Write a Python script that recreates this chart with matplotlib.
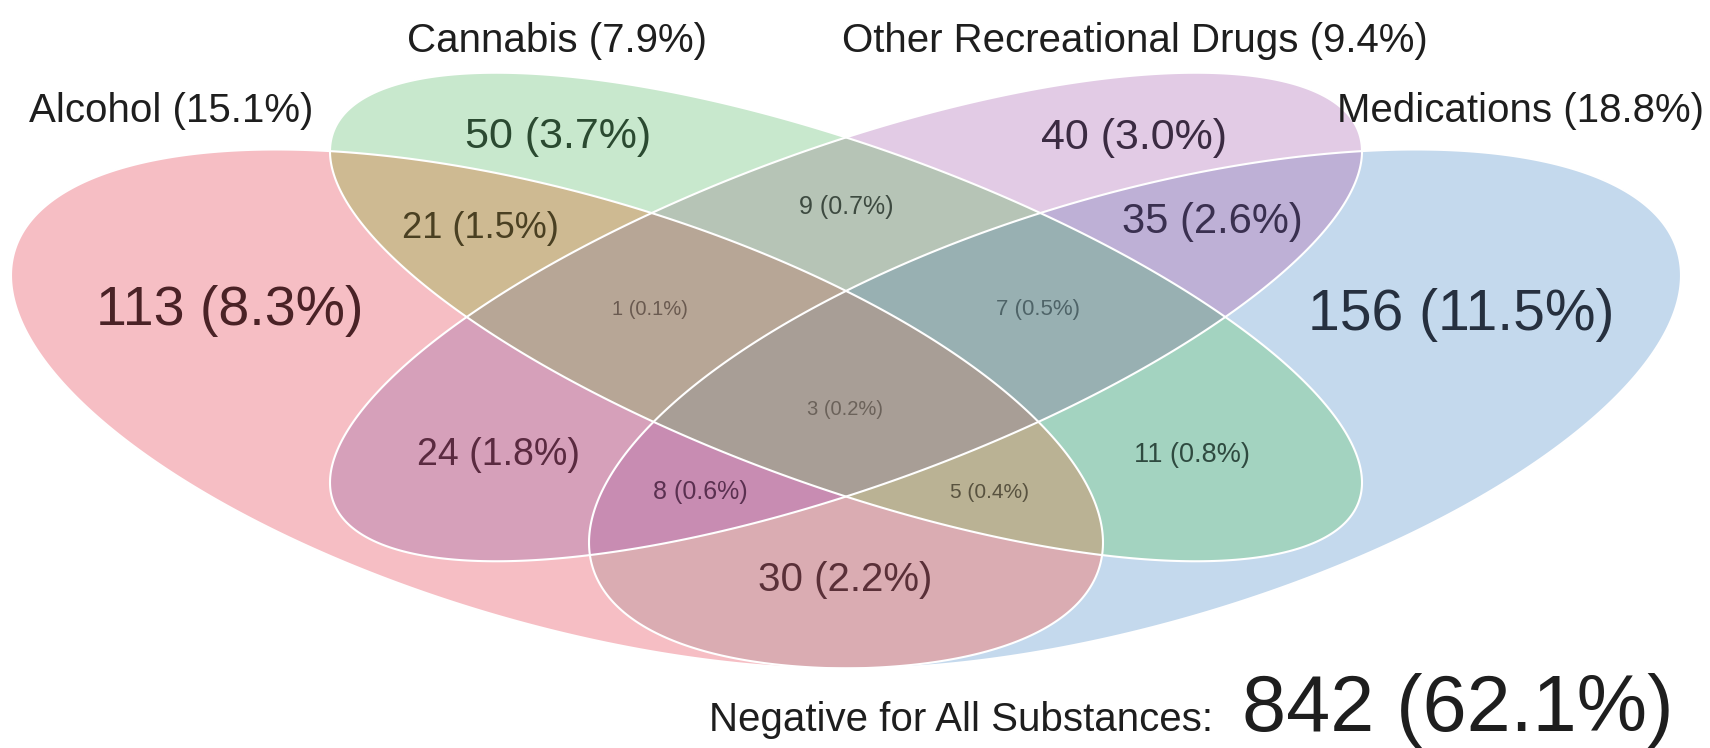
import numpy as np
import matplotlib.pyplot as plt
from matplotlib.patches import Polygon

plt.rcParams['font.family'] = ['Liberation Sans', 'DejaVu Sans']

# ---------------- data ----------------
set_names = ['Alcohol', 'Cannabis', 'Other Recreational Drugs', 'Medications']
set_pcts = [15.1, 7.9, 9.4, 18.8]
# region keys: 0=Alcohol 1=Cannabis 2=Other 3=Medications
region_keys = ['0', '1', '2', '3', '01', '02', '03', '12', '13', '23',
               '012', '013', '023', '123', '0123']
region_counts = [113, 50, 40, 156, 21, 24, 30, 9, 11, 35, 1, 5, 8, 7, 3]
region_pcts = [8.3, 3.7, 3.0, 11.5, 1.5, 1.8, 2.2, 0.7, 0.8, 2.6, 0.1, 0.4, 0.6, 0.5, 0.2]
negative_count = 842
negative_pct = 62.1

# ---------------- layout / style ----------------
# ellipses in pixel space (x right, y down): cx, cy, semi-major, semi-minor, angle
ellipses = [(557, 409, 565, 215, 16.15),
            (846, 317, 545, 170, 19.8),
            (846, 317, 545, 170, -19.8),
            (1135, 409, 565, 215, -16.15)]
region_colors = {'0': '#F6BEC4', '1': '#C8E8CD', '2': '#E2CBE5', '3': '#C4D9ED',
                 '01': '#CEBA92', '02': '#D6A0BA', '03': '#DAACB2', '12': '#B6C4B6',
                 '13': '#A3D3C0', '23': '#BEB0D6', '012': '#B7A696', '013': '#BAB294',
                 '023': '#C88CB2', '123': '#98B0B2', '0123': '#A89E96'}
# label x, y, fontsize, color
region_text = {'0': (230, 311, 40, '#4a2226'), '1': (558, 137, 31, '#2b4a31'),
               '2': (1134, 138, 31, '#3b2b42'), '3': (1461, 315, 41, '#26303f'),
               '01': (480, 228, 26, '#4a4022'), '02': (498, 455, 27, '#5a2a40'),
               '03': (845, 580, 29, '#5a3038'), '12': (846, 207, 18, '#3d4a40'),
               '13': (1192, 455, 19.5, '#2f4a40'), '23': (1212, 222, 30, '#3a3050'),
               '012': (650, 309, 14.5, '#6a5a50'), '013': (989, 492, 15, '#58523f'),
               '023': (700, 492, 18, '#5a3050'), '123': (1038, 309, 16, '#4f6468'),
               '0123': (845, 409, 14.5, '#6b625a')}
set_text = [(171, 111), (557, 41), (1135, 41), (1520, 111)]


def ellipse_pts(cx, cy, a, b, ang, n=500):
    t = np.linspace(0, 2 * np.pi, n, endpoint=False)
    th = np.radians(ang)
    x = a * np.cos(t)
    y = b * np.sin(t)
    return np.column_stack([cx + x * np.cos(th) - y * np.sin(th),
                            cy + x * np.sin(th) + y * np.cos(th)])


def clip_poly(subj, clipper):
    # Sutherland-Hodgman, both convex and counter-clockwise
    out = subj
    for i in range(len(clipper)):
        if len(out) == 0:
            break
        p1 = clipper[i]
        e = clipper[(i + 1) % len(clipper)] - p1
        s = e[0] * (out[:, 1] - p1[1]) - e[1] * (out[:, 0] - p1[0])
        nxt = np.roll(out, -1, axis=0)
        sn = np.roll(s, -1)
        inside = s >= 0
        cross = inside != (sn >= 0)
        t = s / np.where(cross, s - sn, 1.0)
        ip = out + (nxt - out) * t[:, None]
        both = np.stack([out, ip], axis=1).reshape(-1, 2)
        mask = np.stack([inside, cross], axis=1).reshape(-1)
        out = both[mask]
    return out


shapes = [ellipse_pts(*e) for e in ellipses]

fig = plt.figure(figsize=(17.1, 7.48), dpi=100)
ax = fig.add_axes([0, 0, 1, 1])
ax.set_xlim(0, 1710)
ax.set_ylim(748, 0)
ax.axis('off')

# painter's order: singles, pairs, triples, all four
for key in sorted(region_keys, key=len):
    poly = shapes[int(key[0])]
    for k in key[1:]:
        poly = clip_poly(poly, shapes[int(k)])
    if len(poly) > 2:
        ax.add_patch(Polygon(poly, closed=True, facecolor=region_colors[key],
                             edgecolor='none', zorder=1))

for s in shapes:
    ax.add_patch(Polygon(s, closed=True, facecolor='none', edgecolor='white',
                         linewidth=1.5, zorder=2))

for key, cnt, pct in zip(region_keys, region_counts, region_pcts):
    x, y, fs, col = region_text[key]
    ax.text(x, y, '{} ({:.1f}%)'.format(cnt, pct), ha='center', va='center',
            fontsize=fs, color=col, zorder=3)

for (x, y), name, pct in zip(set_text, set_names, set_pcts):
    ax.text(x, y, '{} ({:.1f}%)'.format(name, pct), ha='center', va='center',
            fontsize=29, color='#1e1e1e')

ax.text(1213, 731, 'Negative for All Substances:', ha='right', va='baseline',
        fontsize=29, color='#1e1e1e')
ax.text(1242, 731, '{} ({:.1f}%)'.format(negative_count, negative_pct), ha='left',
        va='baseline', fontsize=57, color='#1e1e1e')

fig.savefig('out.png', dpi=100)
